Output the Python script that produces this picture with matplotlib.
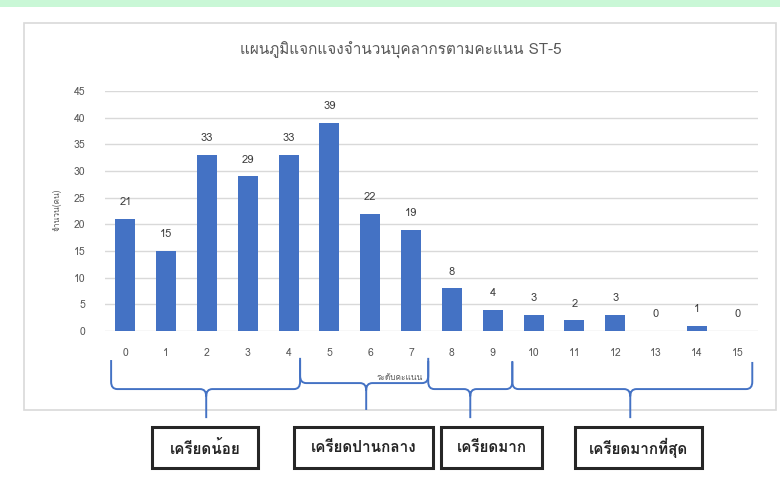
import matplotlib
matplotlib.use('Agg')
import matplotlib.pyplot as plt
from matplotlib import font_manager
from matplotlib.ft2font import FT2Font
from matplotlib.path import Path
from matplotlib.patches import PathPatch, Rectangle
import matplotlib.transforms as mtransforms

# scores 0..15 and number of staff per score
scores = list(range(16))
counts = [21, 15, 33, 29, 33, 39, 22, 19, 8, 4, 3, 2, 3, 0, 1, 0]

title = 'แผนภูมิแจกแจงจำนวนบุคลากรตามคะแนน ST-5'
ylabel = 'จำนวน(คน)'
xlabel = 'ระดับคะแนน'

# stress groups drawn as braces under the x axis
group_names = ['เครียดน้อย', 'เครียดปานกลาง', 'เครียดมาก', 'เครียดมากที่สุด']


def find_thai_font():
    # look for any installed font that has Thai glyphs
    for f in font_manager.fontManager.ttflist:
        try:
            if 0x0E04 in FT2Font(f.fname).get_charmap():
                return f.name
        except Exception:
            pass
    return None


thai = find_thai_font()
fams = [thai, 'DejaVu Sans'] if thai else ['DejaVu Sans']
plt.rcParams['font.family'] = fams

blue = '#4472C4'
grey_txt = '#595959'

fig = plt.figure(figsize=(7.8, 4.83), dpi=100)
W, H = 780, 483

# light green strip at the top and the chart frame (behind the axes)
fig.patches.append(Rectangle((0, 1 - 7 / H), 1, 7 / H, transform=fig.transFigure,
                             facecolor='#c9f7d6', edgecolor='none', zorder=-5))
fig.patches.append(Rectangle((24 / W, 1 - 410 / H), 752 / W, 387 / H, transform=fig.transFigure,
                             facecolor='white', edgecolor='#d9d9d9', lw=1.2, zorder=-5))

ax = fig.add_axes([105 / W, 1 - 331 / H, 653 / W, 240 / H])
ax.patch.set_alpha(0)
ax.bar(scores, counts, width=0.49, color=blue, zorder=3)
ax.set_xlim(-0.5, 15.5)
ax.set_ylim(0, 45)
ax.set_yticks(range(0, 46, 5))
ax.set_xticks(scores)
ax.grid(axis='y', color='#d9d9d9', lw=1, zorder=0)
for s in ax.spines.values():
    s.set_visible(False)
ax.tick_params(length=0, labelsize=7.5, colors=grey_txt)
ax.tick_params(axis='y', pad=14)
ax.tick_params(axis='x', pad=12)

for x, v in zip(scores, counts):
    ax.text(x, v + 2.2, str(v), ha='center', va='bottom', fontsize=8, color='#404040')

fig.text(401 / W, 1 - 50 / H, title, ha='center', va='center', fontsize=11, color=grey_txt)
fig.text(57 / W, 1 - 210 / H, ylabel, ha='center', va='center', rotation=90, fontsize=6, color=grey_txt)
fig.text(400 / W, 1 - 378 / H, xlabel, ha='center', va='center', fontsize=6, color=grey_txt)

# braces: edges in data x, y levels in axes fraction
edges = [-0.35, 4.28, 7.42, 9.48, 15.36]
tips = [1.98, 5.9, 8.45, 12.37]
y_top = [-0.121, -0.112, -0.125, -0.129]
y_mid = [-0.242, -0.217, -0.242, -0.242]
y_tip = [-0.363, -0.329, -0.363, -0.363]
trans = mtransforms.blended_transform_factory(ax.transData, ax.transAxes)
rx, ry = 0.15, 0.03
for i in range(4):
    x0, x1, xm = edges[i], edges[i + 1], tips[i]
    yt, ym, yb = y_top[i], y_mid[i], y_tip[i]
    verts = [(x0, yt), (x0, ym + ry), (x0, ym), (x0 + rx, ym),
             (xm - rx, ym), (xm, ym), (xm, ym - ry), (xm, yb),
             (xm, ym - ry), (xm, ym), (xm + rx, ym),
             (x1 - rx, ym), (x1, ym), (x1, ym + ry), (x1, yt)]
    codes = [Path.MOVETO, Path.LINETO, Path.CURVE3, Path.CURVE3,
             Path.LINETO, Path.CURVE3, Path.CURVE3, Path.LINETO,
             Path.MOVETO, Path.CURVE3, Path.CURVE3,
             Path.LINETO, Path.CURVE3, Path.CURVE3, Path.LINETO]
    ax.add_patch(PathPatch(Path(verts, codes), transform=trans, fill=False,
                           edgecolor=blue, lw=1.4, clip_on=False))

# labelled boxes under the braces (figure pixels)
box_x = [152, 294, 441, 575]
box_w = [106, 139, 101, 127]
for name, bx, bw in zip(group_names, box_x, box_w):
    fig.patches.append(Rectangle((bx / W, 1 - 468 / H), bw / W, 41 / H, transform=fig.transFigure,
                                 facecolor='white', edgecolor='#262626', lw=2.2))
    fig.text((bx + bw / 2) / W, 1 - 448 / H, name, ha='center', va='center',
             fontsize=11, fontweight='bold', color='#262626')

fig.savefig('out.png', dpi=100)
